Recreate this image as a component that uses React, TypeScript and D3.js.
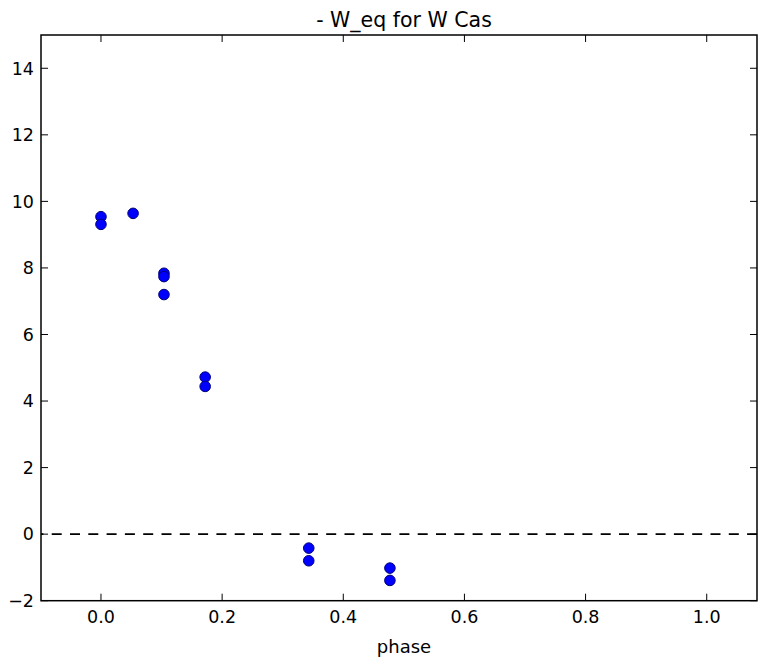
import React from "react";
import * as d3 from "d3";

const phase = [0.0, 0.0, 0.053, 0.104, 0.104, 0.104, 0.172, 0.172, 0.343, 0.343, 0.477, 0.477];
const weq = [9.54, 9.31, 9.64, 7.84, 7.74, 7.2, 4.72, 4.44, -0.42, -0.8, -1.02, -1.39];
const xTicks = [0.0, 0.2, 0.4, 0.6, 0.8, 1.0];
const yTicks = [-2, 0, 2, 4, 6, 8, 10, 12, 14];
const title = "- W_eq for W Cas";
const xLabel = "phase";

export default function App() {
  const left = 41, top = 35, bottom = 600.7, right = 757;
  const x = d3.scaleLinear().domain([-0.1, 1.1]).range([40.4, 767.3]);
  const y = d3.scaleLinear().domain([-2, 15]).range([bottom, top]);
  const font = "'DejaVu Sans', sans-serif";
  const tl = 7;
  return (
    <svg width={758} height={657} style={{ position: "absolute", left: 0, top: 0, background: "#fff" }}>
      <rect x={0} y={0} width={758} height={657} fill="#fff" />
      <text x={404} y={27} textAnchor="middle" fontFamily={font} fontSize={20.5} fill="#000">{title}</text>
      <line x1={left} x2={right} y1={y(0)} y2={y(0)} stroke="#000" strokeWidth={1.6} strokeDasharray="10,8.3" strokeDashoffset={7.6} />
      {phase.map((p, i) => (
        <circle key={i} cx={x(p)} cy={y(weq[i])} r={5.3} fill="#0000ff" stroke="#00007a" strokeWidth={1} />
      ))}
      {xTicks.map((t) => (
        <g key={"x" + t}>
          <line x1={x(t)} x2={x(t)} y1={bottom} y2={bottom - tl} stroke="#000" strokeWidth={1} />
          <line x1={x(t)} x2={x(t)} y1={top} y2={top + tl} stroke="#000" strokeWidth={1} />
          <text x={x(t)} y={623} textAnchor="middle" fontFamily={font} fontSize={17.5} fill="#000">{t.toFixed(1)}</text>
        </g>
      ))}
      {yTicks.map((t) => (
        <g key={"y" + t}>
          <line x1={left} x2={left + tl} y1={y(t)} y2={y(t)} stroke="#000" strokeWidth={1} />
          <line x1={right} x2={right - tl} y1={y(t)} y2={y(t)} stroke="#000" strokeWidth={1} />
          <text x={34} y={y(t)} dy="0.36em" textAnchor="end" fontFamily={font} fontSize={17.5} fill="#000">{t < 0 ? "\u2212" + Math.abs(t) : String(t)}</text>
        </g>
      ))}
      <rect x={left} y={top} width={right - left} height={bottom - top} fill="none" stroke="#000" strokeWidth={1.5} />
      <text x={404} y={653} textAnchor="middle" fontFamily={font} fontSize={18} fill="#000">{xLabel}</text>
    </svg>
  );
}
